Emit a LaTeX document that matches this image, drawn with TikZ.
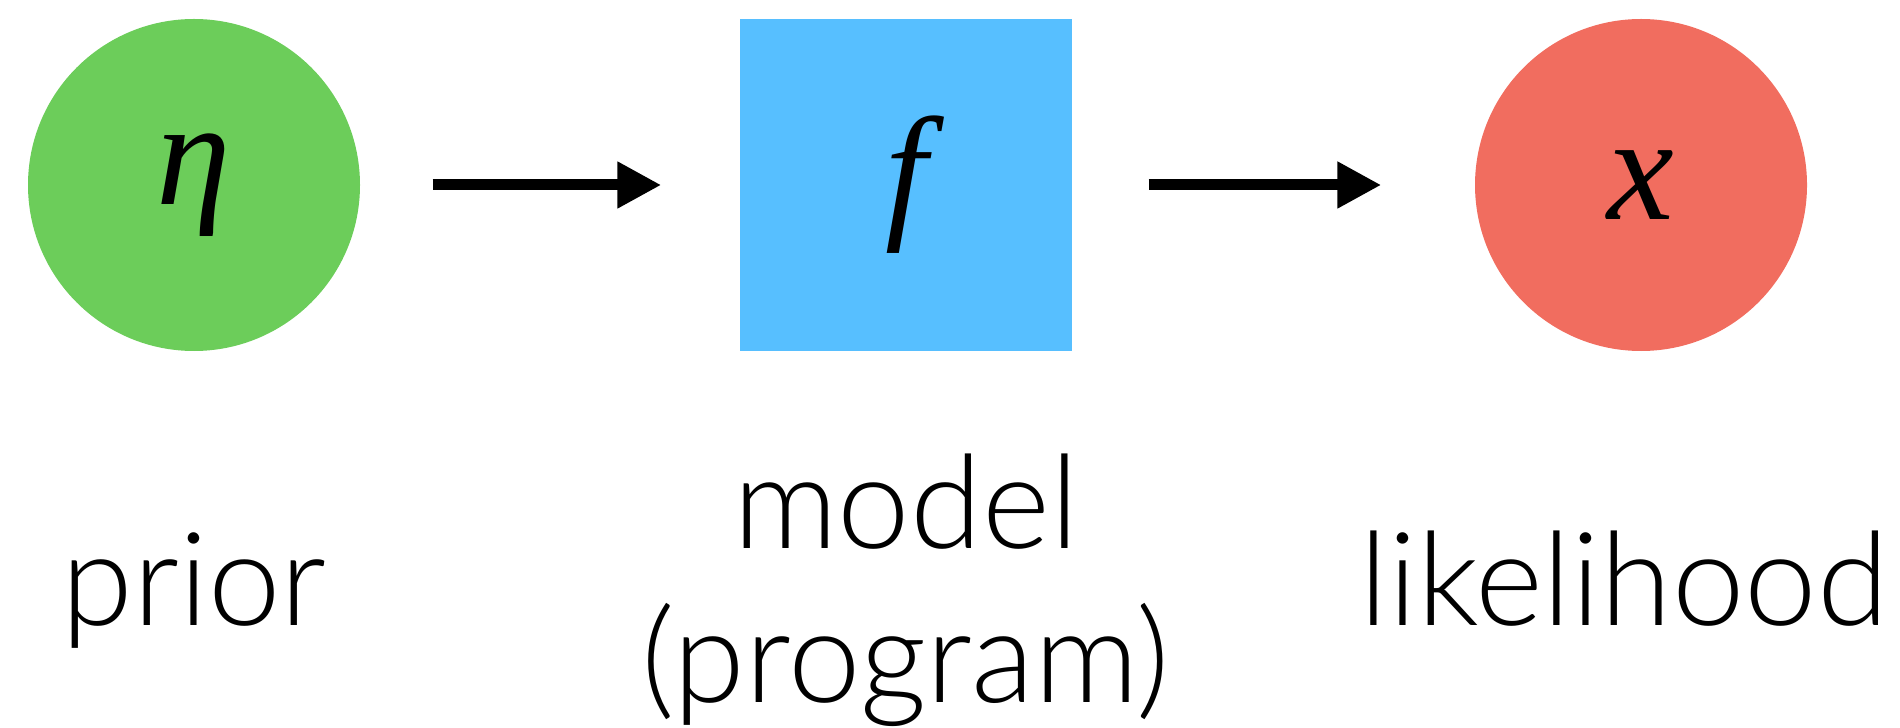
\documentclass[tikz,border=0pt]{standalone}
\usepackage{fontspec}
\setmainfont{Lato}[UprightFont=* Light]
\newfontfamily\letterfont{Liberation Serif}
\usepackage{tikz}
\usetikzlibrary{arrows.meta, positioning}
\definecolor{priorgreen}{RGB}{108,205,90}
\definecolor{progblue}{RGB}{87,191,255}
\definecolor{likred}{RGB}{241,109,95}

\begin{document}
\begin{tikzpicture}[>={Triangle[length=0.44cm, width=0.44cm]},
  var/.style={circle, minimum size=3.32cm, inner sep=0pt,
              font=\fontsize{42.7}{50}\letterfont\itshape},
  prog/.style={rectangle, minimum size=3.32cm, inner sep=0pt, fill=progblue,
               font=\fontsize{42.7}{50}\letterfont\itshape},
  lbl/.style={font=\fontsize{37}{43.8}\selectfont, align=center},
  arr/.style={->, line width=0.11cm},
]
\useasboundingbox (0,0) rectangle (19,-7.28);

% Nodes
\node[var, fill=priorgreen] (prior) at (1.94,-1.85) {η};
\node[prog] (model) at (9.06,-1.85) {f};
\node[var, fill=likred] (lik) at (16.41,-1.85) {x};

% Arrows
\draw[arr, shorten <=0.72cm, shorten >=0.78cm] (prior) -- (model);
\draw[arr, shorten <=0.76cm, shorten >=0.93cm] (model) -- (lik);

% Labels (base = last line)
\node[lbl, below=4.40cm of prior.center, anchor=base] (priorlbl) {prior};
\node[lbl, below=5.17cm of model.center, anchor=base] (modellbl) {model\\(program)};
\node[lbl, below=4.40cm of lik.center, anchor=base, xshift=-0.17cm] (liklbl) {likelihood};

\end{tikzpicture}
\end{document}
